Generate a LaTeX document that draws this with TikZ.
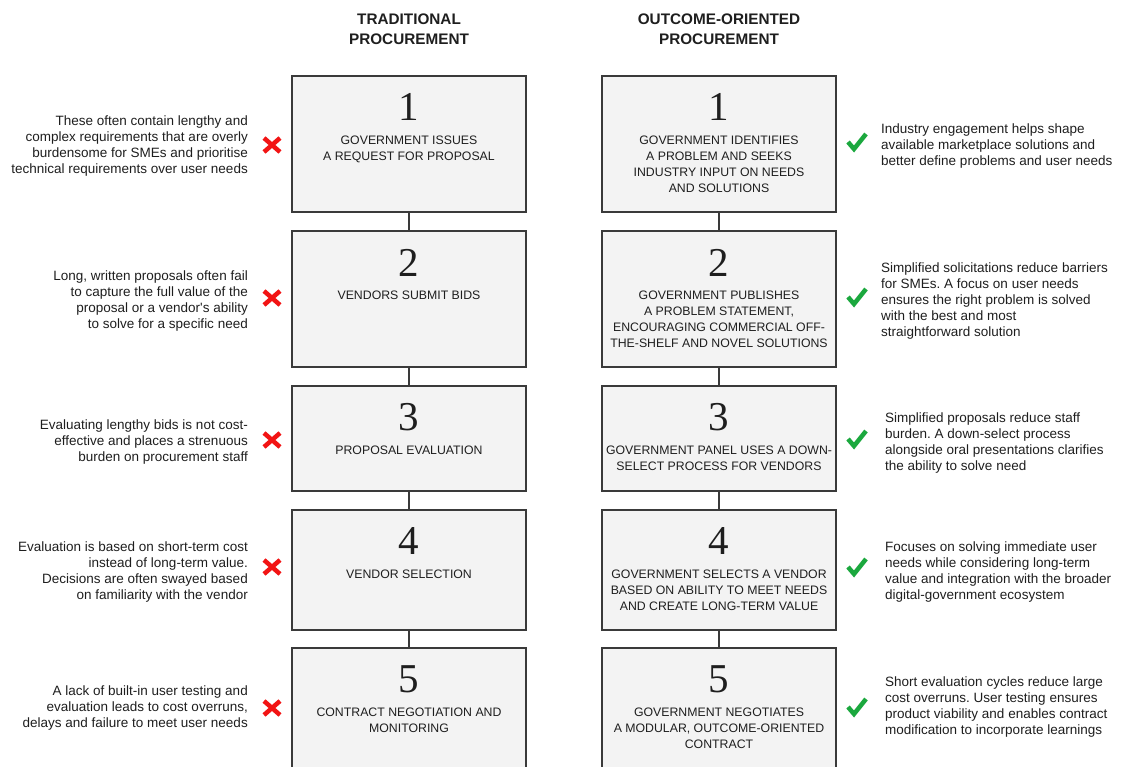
\documentclass[tikz,border=0pt]{standalone}
\usepackage{fontspec}
\newfontfamily\labelfont{Liberation Sans}
\newfontfamily\numberfont{Liberation Serif}
\frenchspacing
\definecolor{my_boxgray}{HTML}{F3F3F3}
\definecolor{my_linegray}{HTML}{3A3A3A}
\definecolor{my_text}{HTML}{1E1E1E}
\definecolor{my_red}{HTML}{F21414}
\definecolor{my_green}{HTML}{1BA83E}

\begin{document}
\begin{tikzpicture}[
    x=1pt, y=-1pt,
    stepbox/.style={draw=my_linegray, fill=my_boxgray, line width=1.1pt,
        minimum width=234pt, inner sep=0pt},
    stepnum/.style={font=\numberfont\fontsize{41}{41}\selectfont, text=my_text, inner sep=0pt},
    steptext/.style={font=\labelfont\fontsize{12.3}{16}\selectfont, text=my_text,
        align=center, anchor=north, inner sep=0pt},
    heading/.style={font=\labelfont\bfseries\fontsize{15.3}{20}\selectfont,
        text=my_text, align=center, inner sep=0pt},
    sidenote/.style={font=\labelfont\fontsize{13.5}{15.9}\selectfont, text=my_text,
        inner sep=0pt},
    link/.style={draw=my_linegray, line width=1.1pt},
    crossmark/.style={draw=my_red, line width=4.5pt},
    tickmark/.style={draw=my_green, line width=4.5pt}
]
\clip (0,0) rectangle (1121,767);

%% ---- Spaltenueberschriften ----
\node[heading] (headtrad) at (409,29) {TRADITIONAL\\PROCUREMENT};
\node[heading] (headout) at (719,29) {OUTCOME-ORIENTED\\PROCUREMENT};

%% ---- Kaesten: traditionell (t) und ergebnisorientiert (o) ----
\node[stepbox, minimum height=136pt] (t1) at (409,144) {};
\node[stepbox, minimum height=136pt] (t2) at (409,299) {};
\node[stepbox, minimum height=105pt] (t3) at (409,438.5) {};
\node[stepbox, minimum height=120pt] (t4) at (409,570) {};
\node[stepbox, minimum height=150pt] (t5) at (409,723) {};

\node[stepbox, minimum height=136pt] (o1) at (719,144) {};
\node[stepbox, minimum height=136pt] (o2) at (719,299) {};
\node[stepbox, minimum height=105pt] (o3) at (719,438.5) {};
\node[stepbox, minimum height=120pt] (o4) at (719,570) {};
\node[stepbox, minimum height=150pt] (o5) at (719,723) {};

%% Verbindungen zwischen den Kaesten
\foreach \i/\j in {1/2, 2/3, 3/4, 4/5} {
    \draw[link] (t\i) -- (t\j);
    \draw[link] (o\i) -- (o\j);
}

%% Schrittnummern
\foreach \i in {1,...,5} {
    \node[stepnum] (t\i num) at ([yshift=-32pt]t\i.north) {\i};
    \node[stepnum] (o\i num) at ([yshift=-32pt]o\i.north) {\i};
}

%% ---- Texte in den Kaesten ----
\node[steptext] (t1txt) at ([yshift=-60.5pt]t1.north)
    {GOVERNMENT ISSUES\\A REQUEST FOR PROPOSAL};
\node[steptext] (t2txt) at ([yshift=-60.5pt]t2.north)
    {VENDORS SUBMIT BIDS};
\node[steptext] (t3txt) at ([yshift=-60.5pt]t3.north)
    {PROPOSAL EVALUATION};
\node[steptext] (t4txt) at ([yshift=-60.5pt]t4.north)
    {VENDOR SELECTION};
\node[steptext] (t5txt) at ([yshift=-60.5pt]t5.north)
    {CONTRACT NEGOTIATION AND\\MONITORING};

\node[steptext] (o1txt) at ([yshift=-60.5pt]o1.north)
    {GOVERNMENT IDENTIFIES\\A PROBLEM AND SEEKS\\INDUSTRY INPUT ON NEEDS\\AND SOLUTIONS};
\node[steptext] (o2txt) at ([yshift=-60.5pt]o2.north)
    {GOVERNMENT PUBLISHES\\A PROBLEM STATEMENT,\\ENCOURAGING COMMERCIAL OFF-\\THE-SHELF AND NOVEL SOLUTIONS};
\node[steptext] (o3txt) at ([yshift=-60.5pt]o3.north)
    {GOVERNMENT PANEL USES A DOWN-\\SELECT PROCESS FOR VENDORS};
\node[steptext] (o4txt) at ([yshift=-60.5pt]o4.north)
    {GOVERNMENT SELECTS A VENDOR\\BASED ON ABILITY TO MEET NEEDS\\AND CREATE LONG-TERM VALUE};
\node[steptext] (o5txt) at ([yshift=-60.5pt]o5.north)
    {GOVERNMENT NEGOTIATES\\A MODULAR, OUTCOME-ORIENTED\\CONTRACT};

%% ---- Nachteile (links, mit rotem Kreuz) ----
\node[sidenote, anchor=east, align=right] (t1note) at (248,146)
    {These often contain lengthy and\\complex requirements that are overly\\burdensome for SMEs and prioritise\\technical requirements over user needs};
\node[sidenote, anchor=east, align=right] (t2note) at (248,301)
    {Long, written proposals often fail\\to capture the full value of the\\proposal or a vendor's ability\\to solve for a specific need};
\node[sidenote, anchor=east, align=right] (t3note) at (248,442)
    {Evaluating lengthy bids is not cost-\\effective and places a strenuous\\burden on procurement staff};
\node[sidenote, anchor=east, align=right] (t4note) at (248,572)
    {Evaluation is based on short-term cost\\instead of long-term value.\\Decisions are often swayed based\\on familiarity with the vendor};
\node[sidenote, anchor=east, align=right] (t5note) at (248,708)
    {A lack of built-in user testing and\\evaluation leads to cost overruns,\\delays and failure to meet user needs};

\foreach \y in {145, 298, 440, 567, 708} {
    \draw[crossmark] (264,\y-7) -- (280,\y+7) (264,\y+7) -- (280,\y-7);
}

%% ---- Vorteile (rechts, mit gruenem Haken) ----
\node[sidenote, anchor=west, align=left] (o1note) at (881,146)
    {Industry engagement helps shape\\available marketplace solutions and\\better define problems and user needs};
\node[sidenote, anchor=west, align=left] (o2note) at (881,301)
    {Simplified solicitations reduce barriers\\for SMEs. A focus on user needs\\ensures the right problem is solved\\with the best and most\\straightforward solution};
\node[sidenote, anchor=west, align=left] (o3note) at (885,443)
    {Simplified proposals reduce staff\\burden. A down-select process\\alongside oral presentations clarifies\\the ability to solve need};
\node[sidenote, anchor=west, align=left] (o4note) at (885,572)
    {Focuses on solving immediate user\\needs while considering long-term\\value and integration with the broader\\digital-government ecosystem};
\node[sidenote, anchor=west, align=left] (o5note) at (885,707)
    {Short evaluation cycles reduce large\\cost overruns. User testing ensures\\product viability and enables contract\\modification to incorporate learnings};

\foreach \y in {143, 298, 440, 568, 708} {
    \draw[tickmark] (848,\y-1) -- (854,\y+6) -- (866,\y-9);
}

\end{tikzpicture}
\end{document}
